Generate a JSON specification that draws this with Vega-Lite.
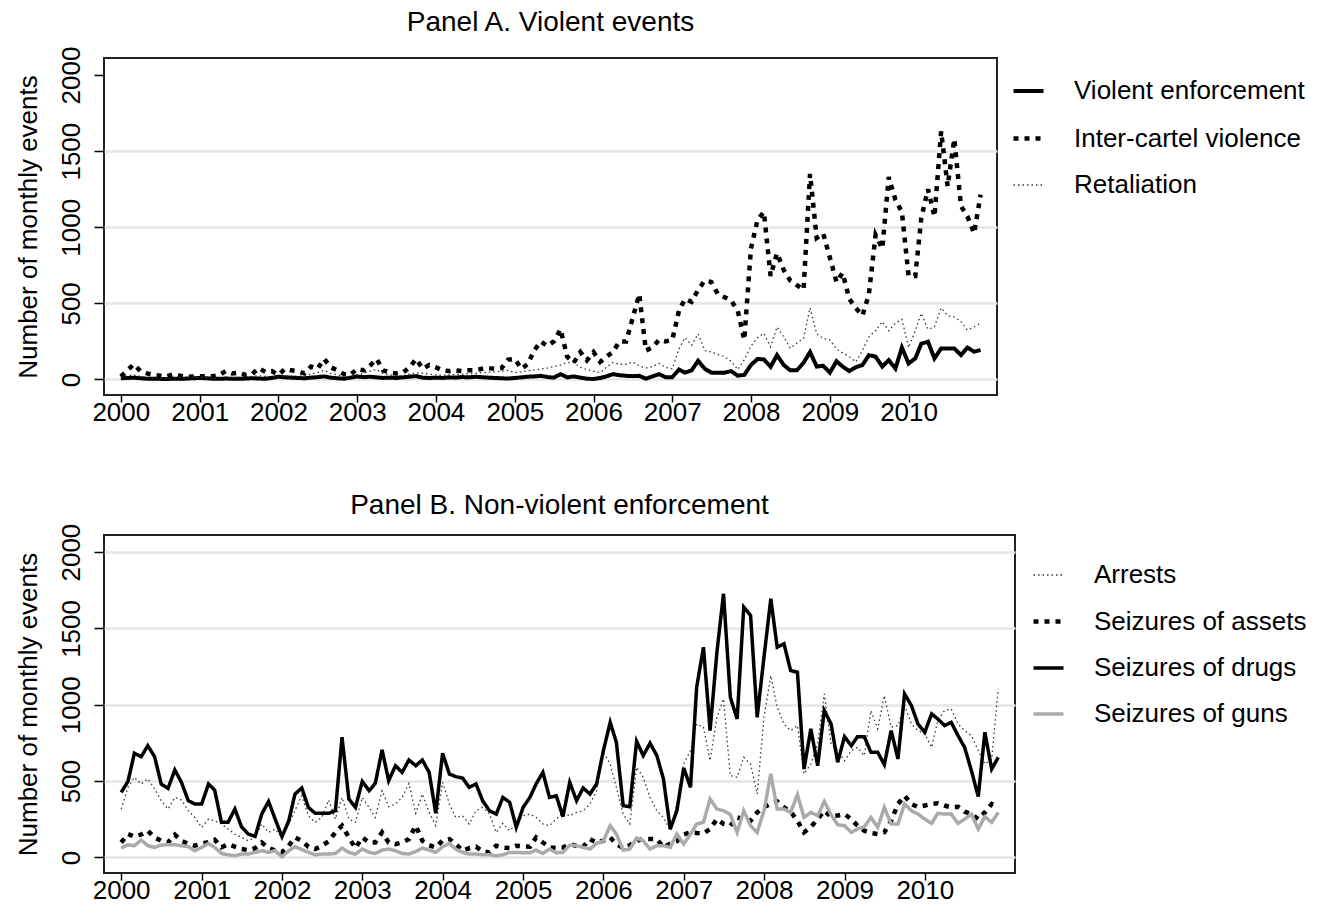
{
"$schema": "https://vega.github.io/schema/vega-lite/v6.json",
"background": "white",
"padding": {"left": 13, "top": 8, "right": 5, "bottom": 0},
"config": {"font": "Liberation Sans", "view": {"stroke": "#222", "strokeWidth": 2}, "title": {"color": "black", "fontWeight": "normal"}},
"data": {"format": {"parse": {"d": "utc:'%Y-%m'"}}, "values": [
{"d":"2000-01","ve":8,"ic":20,"rt":15,"ar":317,"sa":98,"sd":426,"sg":61},
{"d":"2000-02","ve":10,"ic":60,"rt":25,"ar":459,"sa":153,"sd":498,"sg":83},
{"d":"2000-03","ve":12,"ic":100,"rt":30,"ar":525,"sa":136,"sd":682,"sg":77},
{"d":"2000-04","ve":8,"ic":55,"rt":20,"ar":481,"sa":150,"sd":660,"sg":114},
{"d":"2000-05","ve":5,"ic":40,"rt":15,"ar":514,"sa":175,"sd":732,"sg":77},
{"d":"2000-06","ve":5,"ic":30,"rt":10,"ar":450,"sa":130,"sd":660,"sg":66},
{"d":"2000-07","ve":4,"ic":25,"rt":10,"ar":372,"sa":110,"sd":481,"sg":81},
{"d":"2000-08","ve":3,"ic":20,"rt":8,"ar":317,"sa":98,"sd":452,"sg":83},
{"d":"2000-09","ve":5,"ic":35,"rt":10,"ar":393,"sa":149,"sd":573,"sg":83},
{"d":"2000-10","ve":4,"ic":25,"rt":12,"ar":376,"sa":109,"sd":492,"sg":77},
{"d":"2000-11","ve":6,"ic":18,"rt":10,"ar":306,"sa":90,"sd":372,"sg":70},
{"d":"2000-12","ve":8,"ic":20,"rt":12,"ar":262,"sa":77,"sd":350,"sg":44},
{"d":"2001-01","ve":10,"ic":22,"rt":15,"ar":197,"sa":90,"sd":350,"sg":66},
{"d":"2001-02","ve":8,"ic":20,"rt":12,"ar":251,"sa":100,"sd":481,"sg":92},
{"d":"2001-03","ve":5,"ic":22,"rt":10,"ar":240,"sa":116,"sd":441,"sg":66},
{"d":"2001-04","ve":4,"ic":28,"rt":12,"ar":219,"sa":66,"sd":230,"sg":26},
{"d":"2001-05","ve":6,"ic":55,"rt":15,"ar":186,"sa":87,"sd":230,"sg":17},
{"d":"2001-06","ve":5,"ic":40,"rt":12,"ar":153,"sa":70,"sd":317,"sg":11},
{"d":"2001-07","ve":4,"ic":45,"rt":15,"ar":131,"sa":55,"sd":201,"sg":22},
{"d":"2001-08","ve":6,"ic":30,"rt":20,"ar":109,"sa":48,"sd":153,"sg":22},
{"d":"2001-09","ve":8,"ic":35,"rt":18,"ar":131,"sa":60,"sd":138,"sg":33},
{"d":"2001-10","ve":6,"ic":75,"rt":25,"ar":219,"sa":98,"sd":284,"sg":44},
{"d":"2001-11","ve":5,"ic":50,"rt":20,"ar":164,"sa":61,"sd":367,"sg":33},
{"d":"2001-12","ve":10,"ic":55,"rt":18,"ar":186,"sa":45,"sd":251,"sg":44},
{"d":"2002-01","ve":18,"ic":30,"rt":20,"ar":131,"sa":33,"sd":136,"sg":4},
{"d":"2002-02","ve":14,"ic":70,"rt":25,"ar":219,"sa":77,"sd":240,"sg":44},
{"d":"2002-03","ve":12,"ic":60,"rt":22,"ar":306,"sa":131,"sd":415,"sg":70},
{"d":"2002-04","ve":10,"ic":55,"rt":20,"ar":404,"sa":109,"sd":455,"sg":52},
{"d":"2002-05","ve":8,"ic":40,"rt":25,"ar":273,"sa":70,"sd":328,"sg":33},
{"d":"2002-06","ve":12,"ic":85,"rt":35,"ar":230,"sa":55,"sd":289,"sg":17},
{"d":"2002-07","ve":15,"ic":70,"rt":45,"ar":262,"sa":77,"sd":289,"sg":22},
{"d":"2002-08","ve":20,"ic":135,"rt":60,"ar":376,"sa":105,"sd":289,"sg":22},
{"d":"2002-09","ve":12,"ic":80,"rt":40,"ar":251,"sa":164,"sd":306,"sg":26},
{"d":"2002-10","ve":8,"ic":60,"rt":30,"ar":393,"sa":208,"sd":787,"sg":61},
{"d":"2002-11","ve":5,"ic":35,"rt":20,"ar":251,"sa":131,"sd":383,"sg":33},
{"d":"2002-12","ve":12,"ic":30,"rt":18,"ar":230,"sa":61,"sd":328,"sg":22},
{"d":"2003-01","ve":20,"ic":70,"rt":30,"ar":393,"sa":131,"sd":498,"sg":55},
{"d":"2003-02","ve":15,"ic":60,"rt":40,"ar":328,"sa":98,"sd":437,"sg":33},
{"d":"2003-03","ve":18,"ic":90,"rt":55,"ar":262,"sa":98,"sd":485,"sg":26},
{"d":"2003-04","ve":14,"ic":135,"rt":65,"ar":437,"sa":164,"sd":704,"sg":48},
{"d":"2003-05","ve":10,"ic":60,"rt":40,"ar":332,"sa":98,"sd":503,"sg":55},
{"d":"2003-06","ve":12,"ic":45,"rt":30,"ar":350,"sa":87,"sd":601,"sg":44},
{"d":"2003-07","ve":10,"ic":40,"rt":25,"ar":393,"sa":98,"sd":557,"sg":26},
{"d":"2003-08","ve":14,"ic":45,"rt":25,"ar":485,"sa":120,"sd":638,"sg":22},
{"d":"2003-09","ve":18,"ic":80,"rt":35,"ar":289,"sa":208,"sd":601,"sg":39},
{"d":"2003-10","ve":22,"ic":135,"rt":45,"ar":415,"sa":109,"sd":638,"sg":61},
{"d":"2003-11","ve":12,"ic":70,"rt":40,"ar":295,"sa":80,"sd":557,"sg":48},
{"d":"2003-12","ve":10,"ic":95,"rt":35,"ar":208,"sa":66,"sd":289,"sg":33},
{"d":"2004-01","ve":12,"ic":80,"rt":30,"ar":492,"sa":110,"sd":682,"sg":70},
{"d":"2004-02","ve":10,"ic":60,"rt":28,"ar":350,"sa":120,"sd":546,"sg":92},
{"d":"2004-03","ve":14,"ic":55,"rt":30,"ar":262,"sa":87,"sd":529,"sg":55},
{"d":"2004-04","ve":12,"ic":60,"rt":32,"ar":273,"sa":44,"sd":520,"sg":33},
{"d":"2004-05","ve":16,"ic":55,"rt":35,"ar":219,"sa":60,"sd":459,"sg":22},
{"d":"2004-06","ve":14,"ic":60,"rt":38,"ar":306,"sa":70,"sd":481,"sg":22},
{"d":"2004-07","ve":18,"ic":60,"rt":40,"ar":328,"sa":40,"sd":372,"sg":17},
{"d":"2004-08","ve":15,"ic":70,"rt":45,"ar":284,"sa":33,"sd":306,"sg":17},
{"d":"2004-09","ve":12,"ic":75,"rt":48,"ar":164,"sa":77,"sd":284,"sg":11},
{"d":"2004-10","ve":10,"ic":70,"rt":50,"ar":223,"sa":65,"sd":393,"sg":17},
{"d":"2004-11","ve":8,"ic":75,"rt":55,"ar":175,"sa":61,"sd":361,"sg":33},
{"d":"2004-12","ve":6,"ic":130,"rt":60,"ar":219,"sa":77,"sd":197,"sg":33},
{"d":"2005-01","ve":10,"ic":135,"rt":45,"ar":273,"sa":72,"sd":328,"sg":31},
{"d":"2005-02","ve":14,"ic":70,"rt":50,"ar":284,"sa":70,"sd":393,"sg":31},
{"d":"2005-03","ve":18,"ic":100,"rt":57,"ar":262,"sa":131,"sd":481,"sg":48},
{"d":"2005-04","ve":20,"ic":190,"rt":62,"ar":219,"sa":98,"sd":557,"sg":26},
{"d":"2005-05","ve":24,"ic":250,"rt":68,"ar":208,"sa":66,"sd":393,"sg":55},
{"d":"2005-06","ve":16,"ic":220,"rt":75,"ar":251,"sa":61,"sd":404,"sg":31},
{"d":"2005-07","ve":12,"ic":250,"rt":85,"ar":295,"sa":65,"sd":267,"sg":33},
{"d":"2005-08","ve":35,"ic":330,"rt":95,"ar":273,"sa":87,"sd":492,"sg":81},
{"d":"2005-09","ve":14,"ic":150,"rt":112,"ar":295,"sa":75,"sd":372,"sg":77},
{"d":"2005-10","ve":20,"ic":110,"rt":110,"ar":306,"sa":70,"sd":455,"sg":66},
{"d":"2005-11","ve":12,"ic":180,"rt":80,"ar":350,"sa":120,"sd":415,"sg":55},
{"d":"2005-12","ve":5,"ic":125,"rt":65,"ar":437,"sa":98,"sd":481,"sg":92},
{"d":"2006-01","ve":3,"ic":180,"rt":55,"ar":689,"sa":110,"sd":700,"sg":109},
{"d":"2006-02","ve":10,"ic":115,"rt":45,"ar":612,"sa":131,"sd":885,"sg":208},
{"d":"2006-03","ve":20,"ic":150,"rt":80,"ar":459,"sa":87,"sd":754,"sg":153},
{"d":"2006-04","ve":35,"ic":180,"rt":112,"ar":284,"sa":61,"sd":339,"sg":48},
{"d":"2006-05","ve":28,"ic":250,"rt":100,"ar":219,"sa":80,"sd":332,"sg":55},
{"d":"2006-06","ve":24,"ic":250,"rt":100,"ar":590,"sa":109,"sd":761,"sg":127},
{"d":"2006-07","ve":22,"ic":400,"rt":115,"ar":525,"sa":120,"sd":667,"sg":109},
{"d":"2006-08","ve":24,"ic":560,"rt":90,"ar":393,"sa":120,"sd":748,"sg":55},
{"d":"2006-09","ve":5,"ic":190,"rt":75,"ar":306,"sa":120,"sd":667,"sg":77},
{"d":"2006-10","ve":20,"ic":210,"rt":85,"ar":262,"sa":66,"sd":514,"sg":77},
{"d":"2006-11","ve":35,"ic":260,"rt":105,"ar":175,"sa":90,"sd":186,"sg":66},
{"d":"2006-12","ve":15,"ic":250,"rt":80,"ar":350,"sa":105,"sd":306,"sg":153},
{"d":"2007-01","ve":15,"ic":260,"rt":70,"ar":612,"sa":150,"sd":586,"sg":87},
{"d":"2007-02","ve":65,"ic":450,"rt":200,"ar":700,"sa":164,"sd":459,"sg":153},
{"d":"2007-03","ve":45,"ic":530,"rt":275,"ar":874,"sa":160,"sd":1115,"sg":219},
{"d":"2007-04","ve":60,"ic":510,"rt":225,"ar":853,"sa":157,"sd":1377,"sg":230},
{"d":"2007-05","ve":123,"ic":590,"rt":300,"ar":634,"sa":186,"sd":831,"sg":383},
{"d":"2007-06","ve":70,"ic":650,"rt":190,"ar":918,"sa":251,"sd":1344,"sg":317},
{"d":"2007-07","ve":45,"ic":640,"rt":180,"ar":1038,"sa":220,"sd":1727,"sg":306},
{"d":"2007-08","ve":45,"ic":560,"rt":165,"ar":536,"sa":208,"sd":1049,"sg":280},
{"d":"2007-09","ve":45,"ic":540,"rt":150,"ar":525,"sa":262,"sd":907,"sg":164},
{"d":"2007-10","ve":55,"ic":520,"rt":120,"ar":656,"sa":250,"sd":1640,"sg":306},
{"d":"2007-11","ve":25,"ic":450,"rt":65,"ar":612,"sa":240,"sd":1585,"sg":208},
{"d":"2007-12","ve":30,"ic":260,"rt":130,"ar":415,"sa":295,"sd":918,"sg":164},
{"d":"2008-01","ve":95,"ic":860,"rt":220,"ar":918,"sa":330,"sd":1312,"sg":306},
{"d":"2008-02","ve":135,"ic":1050,"rt":275,"ar":1191,"sa":350,"sd":1694,"sg":547},
{"d":"2008-03","ve":132,"ic":1100,"rt":303,"ar":984,"sa":367,"sd":1377,"sg":317},
{"d":"2008-04","ve":83,"ic":680,"rt":215,"ar":874,"sa":328,"sd":1399,"sg":317},
{"d":"2008-05","ve":160,"ic":830,"rt":345,"ar":831,"sa":300,"sd":1224,"sg":295},
{"d":"2008-06","ve":95,"ic":720,"rt":280,"ar":864,"sa":240,"sd":1213,"sg":411},
{"d":"2008-07","ve":60,"ic":650,"rt":205,"ar":547,"sa":164,"sd":579,"sg":262},
{"d":"2008-08","ve":60,"ic":620,"rt":240,"ar":612,"sa":200,"sd":842,"sg":295},
{"d":"2008-09","ve":110,"ic":590,"rt":270,"ar":743,"sa":251,"sd":601,"sg":273},
{"d":"2008-10","ve":180,"ic":1350,"rt":470,"ar":1071,"sa":306,"sd":962,"sg":367},
{"d":"2008-11","ve":85,"ic":930,"rt":300,"ar":743,"sa":267,"sd":874,"sg":280},
{"d":"2008-12","ve":90,"ic":960,"rt":270,"ar":700,"sa":275,"sd":623,"sg":214},
{"d":"2009-01","ve":45,"ic":800,"rt":260,"ar":634,"sa":284,"sd":791,"sg":208},
{"d":"2009-02","ve":120,"ic":640,"rt":200,"ar":700,"sa":251,"sd":732,"sg":164},
{"d":"2009-03","ve":85,"ic":700,"rt":175,"ar":721,"sa":208,"sd":791,"sg":186},
{"d":"2009-04","ve":55,"ic":530,"rt":150,"ar":667,"sa":175,"sd":791,"sg":201},
{"d":"2009-05","ve":80,"ic":470,"rt":115,"ar":962,"sa":160,"sd":689,"sg":262},
{"d":"2009-06","ve":95,"ic":420,"rt":190,"ar":842,"sa":153,"sd":689,"sg":197},
{"d":"2009-07","ve":160,"ic":560,"rt":280,"ar":1060,"sa":164,"sd":608,"sg":328},
{"d":"2009-08","ve":150,"ic":950,"rt":320,"ar":853,"sa":240,"sd":831,"sg":219},
{"d":"2009-09","ve":85,"ic":860,"rt":380,"ar":864,"sa":350,"sd":645,"sg":219},
{"d":"2009-10","ve":127,"ic":1330,"rt":320,"ar":995,"sa":404,"sd":1071,"sg":350},
{"d":"2009-11","ve":72,"ic":1180,"rt":370,"ar":874,"sa":350,"sd":995,"sg":306},
{"d":"2009-12","ve":210,"ic":1100,"rt":395,"ar":831,"sa":330,"sd":874,"sg":284},
{"d":"2010-01","ve":105,"ic":680,"rt":210,"ar":809,"sa":340,"sd":820,"sg":251},
{"d":"2010-02","ve":138,"ic":680,"rt":320,"ar":721,"sa":350,"sd":940,"sg":223},
{"d":"2010-03","ve":235,"ic":1060,"rt":435,"ar":896,"sa":354,"sd":907,"sg":289},
{"d":"2010-04","ve":248,"ic":1250,"rt":330,"ar":962,"sa":340,"sd":864,"sg":284},
{"d":"2010-05","ve":138,"ic":1070,"rt":345,"ar":973,"sa":328,"sd":885,"sg":284},
{"d":"2010-06","ve":204,"ic":1630,"rt":470,"ar":874,"sa":332,"sd":798,"sg":223},
{"d":"2010-07","ve":204,"ic":1270,"rt":420,"ar":831,"sa":300,"sd":721,"sg":251},
{"d":"2010-08","ve":204,"ic":1580,"rt":410,"ar":798,"sa":284,"sd":568,"sg":284},
{"d":"2010-09","ve":160,"ic":1140,"rt":380,"ar":700,"sa":251,"sd":398,"sg":186},
{"d":"2010-10","ve":210,"ic":1070,"rt":325,"ar":612,"sa":295,"sd":820,"sg":267},
{"d":"2010-11","ve":182,"ic":960,"rt":345,"ar":645,"sa":350,"sd":579,"sg":230},
{"d":"2010-12","ve":193,"ic":1215,"rt":370,"ar":1104,"sa":332,"sd":656,"sg":295}
]},
"bounds": "flush",
"spacing": 140,
"resolve": {"scale": {"stroke": "independent", "strokeDash": "independent", "strokeWidth": "independent"}, "legend": {"stroke": "independent", "strokeDash": "independent", "strokeWidth": "independent"}},
"vconcat": [
{
"width": 893, "height": 337,
"title": {"text": "Panel A. Violent events", "fontSize": 28, "frame": "group", "anchor": "middle", "offset": 9},
"transform": [{"fold": ["ve", "ic", "rt"], "as": ["k", "v"]}],
"mark": {"type": "line", "clip": true},
"encoding": {
"x": {"field": "d", "type": "temporal", "scale": {"type": "utc", "domain": [{"year": 1999, "month": 10, "date": 15, "utc": true}, {"year": 2011, "month": 2, "date": 15, "utc": true}]},
"axis": {"title": null, "format": "%Y", "values": [{"year": 2000, "utc": true}, {"year": 2001, "utc": true}, {"year": 2002, "utc": true}, {"year": 2003, "utc": true}, {"year": 2004, "utc": true}, {"year": 2005, "utc": true}, {"year": 2006, "utc": true}, {"year": 2007, "utc": true}, {"year": 2008, "utc": true}, {"year": 2009, "utc": true}, {"year": 2010, "utc": true}], "grid": false, "domain": false, "tickSize": 7, "tickWidth": 1.5, "tickColor": "black", "labelFontSize": 26, "labelColor": "black", "labelPadding": -3, "labelFlush": false, "labelOverlap": false, "labelAngle": 0}},
"y": {"field": "v", "type": "quantitative", "scale": {"domain": [-102, 2112], "nice": false, "zero": false},
"axis": {"title": "Number of monthly events", "titleFontSize": 26, "titleFontWeight": "normal", "titleColor": "black", "titlePadding": 17, "values": [0, 500, 1000, 1500, 2000], "format": "d", "labelAngle": -90, "labelFontSize": 26, "labelColor": "black", "labelPadding": 10, "tickSize": 10, "tickWidth": 1.5, "tickColor": "black", "domain": false, "grid": true, "gridWidth": 2.5, "gridColor": {"condition": {"test": "datum.value === 2000", "value": "rgba(0,0,0,0)"}, "value": "#e6e6e6"}}},
"stroke": {"field": "k", "type": "nominal", "scale": {"domain": ["ve", "ic", "rt"], "range": ["black", "black", "#333"]},
"legend": {"orient": "none", "legendX": 907, "legendY": 16, "title": null, "padding": 0, "labelFontSize": 26, "labelLimit": 500, "labelColor": "black", "symbolType": "stroke", "symbolSize": 900, "labelOffset": 28, "rowPadding": 17, "labelExpr": "datum.label == 've' ? 'Violent enforcement' : datum.label == 'ic' ? 'Inter-cartel violence' : 'Retaliation'"}},
"strokeDash": {"field": "k", "type": "nominal", "scale": {"domain": ["ve", "ic", "rt"], "range": [[1, 0], [5, 6], [1.5, 3]]},
"legend": {"orient": "none", "legendX": 907, "legendY": 16, "title": null, "padding": 0, "labelFontSize": 26, "labelLimit": 500, "labelColor": "black", "symbolType": "stroke", "symbolSize": 900, "labelOffset": 28, "rowPadding": 17, "labelExpr": "datum.label == 've' ? 'Violent enforcement' : datum.label == 'ic' ? 'Inter-cartel violence' : 'Retaliation'"}},
"strokeWidth": {"field": "k", "type": "nominal", "scale": {"type": "ordinal", "domain": ["ve", "ic", "rt"], "range": [4, 4.5, 1.3]},
"legend": {"orient": "none", "legendX": 907, "legendY": 16, "title": null, "padding": 0, "labelFontSize": 26, "labelLimit": 500, "labelColor": "black", "symbolType": "stroke", "symbolSize": 900, "labelOffset": 28, "rowPadding": 17, "labelExpr": "datum.label == 've' ? 'Violent enforcement' : datum.label == 'ic' ? 'Inter-cartel violence' : 'Retaliation'"}}
}
},
{
"width": 911, "height": 338,
"title": {"text": "Panel B. Non-violent enforcement", "fontSize": 28, "frame": "group", "anchor": "middle", "offset": 3},
"transform": [{"fold": ["ar", "sa", "sd", "sg"], "as": ["k", "v"]}],
"mark": {"type": "line", "clip": true},
"encoding": {
"x": {"field": "d", "type": "temporal", "scale": {"type": "utc", "domain": [{"year": 1999, "month": 10, "date": 15, "utc": true}, {"year": 2011, "month": 2, "date": 15, "utc": true}]},
"axis": {"title": null, "format": "%Y", "values": [{"year": 2000, "utc": true}, {"year": 2001, "utc": true}, {"year": 2002, "utc": true}, {"year": 2003, "utc": true}, {"year": 2004, "utc": true}, {"year": 2005, "utc": true}, {"year": 2006, "utc": true}, {"year": 2007, "utc": true}, {"year": 2008, "utc": true}, {"year": 2009, "utc": true}, {"year": 2010, "utc": true}], "grid": false, "domain": false, "tickSize": 7, "tickWidth": 1.5, "tickColor": "black", "labelFontSize": 26, "labelColor": "black", "labelPadding": -3, "labelFlush": false, "labelOverlap": false, "labelAngle": 0}},
"y": {"field": "v", "type": "quantitative", "scale": {"domain": [-102, 2112], "nice": false, "zero": false},
"axis": {"title": "Number of monthly events", "titleFontSize": 26, "titleFontWeight": "normal", "titleColor": "black", "titlePadding": 17, "values": [0, 500, 1000, 1500, 2000], "format": "d", "labelAngle": -90, "labelFontSize": 26, "labelColor": "black", "labelPadding": 10, "tickSize": 10, "tickWidth": 1.5, "tickColor": "black", "domain": false, "grid": true, "gridWidth": 2.5, "gridColor": "#e6e6e6"}},
"stroke": {"field": "k", "type": "nominal", "scale": {"domain": ["ar", "sa", "sd", "sg"], "range": ["#333", "black", "black", "#aaaaaa"]},
"legend": {"orient": "none", "legendX": 927, "legendY": 24, "title": null, "padding": 0, "labelFontSize": 26, "labelLimit": 500, "labelColor": "black", "symbolType": "stroke", "symbolSize": 900, "labelOffset": 28, "rowPadding": 16, "labelExpr": "datum.label == 'ar' ? 'Arrests' : datum.label == 'sa' ? 'Seizures of assets' : datum.label == 'sd' ? 'Seizures of drugs' : 'Seizures of guns'"}},
"strokeDash": {"field": "k", "type": "nominal", "scale": {"domain": ["ar", "sa", "sd", "sg"], "range": [[1.5, 3], [5, 6], [1, 0], [1, 0]]},
"legend": {"orient": "none", "legendX": 927, "legendY": 24, "title": null, "padding": 0, "labelFontSize": 26, "labelLimit": 500, "labelColor": "black", "symbolType": "stroke", "symbolSize": 900, "labelOffset": 28, "rowPadding": 16, "labelExpr": "datum.label == 'ar' ? 'Arrests' : datum.label == 'sa' ? 'Seizures of assets' : datum.label == 'sd' ? 'Seizures of drugs' : 'Seizures of guns'"}},
"strokeWidth": {"field": "k", "type": "nominal", "scale": {"type": "ordinal", "domain": ["ar", "sa", "sd", "sg"], "range": [1.3, 4.5, 3.5, 3.5]},
"legend": {"orient": "none", "legendX": 927, "legendY": 24, "title": null, "padding": 0, "labelFontSize": 26, "labelLimit": 500, "labelColor": "black", "symbolType": "stroke", "symbolSize": 900, "labelOffset": 28, "rowPadding": 16, "labelExpr": "datum.label == 'ar' ? 'Arrests' : datum.label == 'sa' ? 'Seizures of assets' : datum.label == 'sd' ? 'Seizures of drugs' : 'Seizures of guns'"}}
}
}
]
}
